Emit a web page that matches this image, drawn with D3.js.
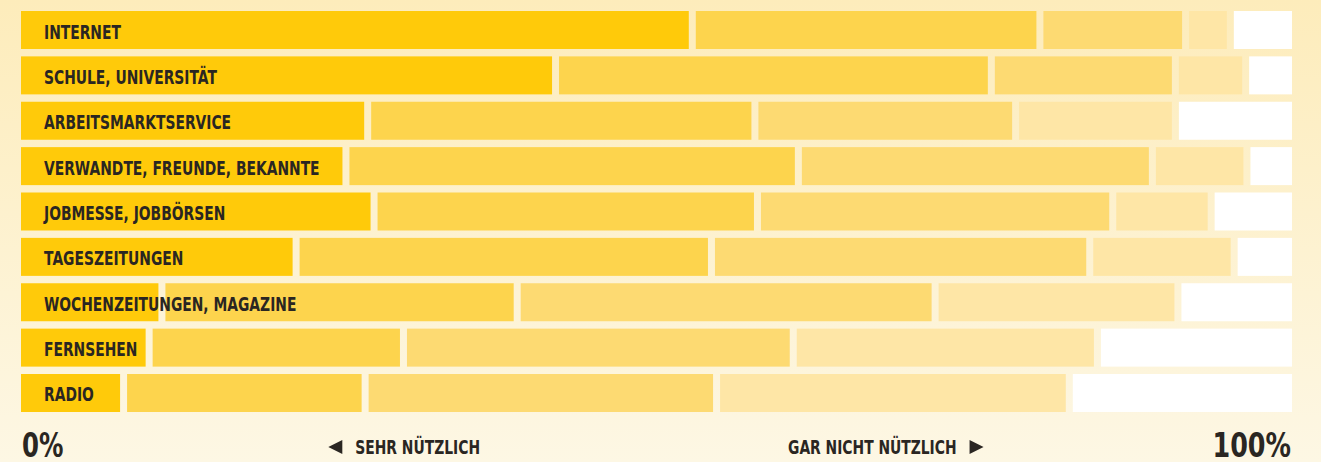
<!DOCTYPE html>
<html>
<head>
<meta charset="utf-8">
<script src="https://cdn.jsdelivr.net/npm/d3@7"></script>
<style>
  html, body { margin: 0; padding: 0; overflow: hidden; }
  svg { display: block; }
  .label { font-family: "DejaVu Sans", "Liberation Sans", sans-serif; font-weight: bold; fill: #2a2622; }
</style>
</head>
<body>
<script>
var canvasWidth = 1321;
var canvasHeight = 462;

// Informationsquellen, von oben nach unten
var categories = ["INTERNET", "SCHULE, UNIVERSITÄT", "ARBEITSMARKTSERVICE",
	"VERWANDTE, FREUNDE, BEKANNTE", "JOBMESSE, JOBBÖRSEN", "TAGESZEITUNGEN",
	"WOCHENZEITUNGEN, MAGAZINE", "FERNSEHEN", "RADIO"];

// Anteile in %
var sehrNuetzlich     = [52.8, 42.1, 27.4, 25.7, 27.9, 21.8, 11.3, 10.3,  8.3];
var eherNuetzlich     = [27.2, 34.1, 30.3, 35.4, 30.0, 32.5, 27.8, 19.9, 18.9];
var wenigNuetzlich    = [11.4, 14.4, 20.4, 27.7, 27.8, 29.6, 32.7, 30.5, 27.5];
var garNichtNuetzlich = [ 3.5,  5.5, 12.5,  7.4,  7.7, 11.3, 19.0, 23.8, 27.6];
var keineAngabe       = [ 5.1,  3.9,  9.4,  3.8,  6.6,  4.8,  9.2, 15.5, 17.7];

var seriesKeys = ["sehr", "eher", "wenig", "garnicht", "keine"];
var seriesColors = ["#ffca0a", "#fdd44d", "#fdda72", "#fee6a6", "#ffffff"];

var axisLabels = ["0%", "100%"];
var leftHint = "SEHR NÜTZLICH";
var rightHint = "GAR NICHT NÜTZLICH";

var gap = 7;
var squeeze = 0.73;   // no condensed font installed, so squeeze the bold one
var svg, xScale, yScale, colorScale;

function initCanvas() {
	svg = d3.select("body").append("svg")
		.attr("width", canvasWidth)
		.attr("height", canvasHeight);

	var grad = svg.append("defs").append("linearGradient")
		.attr("id", "bg")
		.attr("x1", 0).attr("y1", 0)
		.attr("x2", 0).attr("y2", 1);
	grad.append("stop").attr("offset", "0%").attr("stop-color", "#fdecbb");
	grad.append("stop").attr("offset", "100%").attr("stop-color", "#fdf7e4");

	svg.append("rect")
		.attr("width", canvasWidth)
		.attr("height", canvasHeight)
		.attr("fill", "url(#bg)");
}

function initScales() {
	xScale = d3.scaleLinear()
		.domain([0, 100])
		.range([21, 1292 + gap]);

	yScale = d3.scaleBand()
		.domain(categories)
		.range([11, 412])
		.paddingInner(0.1625)
		.paddingOuter(0);

	colorScale = d3.scaleOrdinal()
		.domain(seriesKeys)
		.range(seriesColors);
}

// text placed at (x,y), narrowed horizontally
function addText(parent, x, y, size, sx, anchor, txt) {
	return parent.append("text")
		.attr("class", "label")
		.attr("transform", "translate(" + x + "," + y + ") scale(" + sx + ",1)")
		.attr("text-anchor", anchor)
		.style("font-size", size + "px")
		.text(txt);
}

function drawBars() {
	var table = categories.map(function(c, i) {
		return {
			cat: c,
			sehr: sehrNuetzlich[i],
			eher: eherNuetzlich[i],
			wenig: wenigNuetzlich[i],
			garnicht: garNichtNuetzlich[i],
			keine: keineAngabe[i]
		};
	});

	var stacked = d3.stack().keys(seriesKeys)(table);

	var layers = svg.append("g").selectAll("g")
		.data(stacked)
		.enter().append("g")
		.attr("fill", function(d) { return colorScale(d.key); });

	layers.selectAll("rect")
		.data(function(d) { return d; })
		.enter().append("rect")
		.attr("x", function(d) { return xScale(d[0]); })
		.attr("y", function(d) { return yScale(d.data.cat); })
		.attr("width", function(d) {
			return Math.max(0, xScale(d[1]) - xScale(d[0]) - gap); })
		.attr("height", yScale.bandwidth());

	// labels sit on top of the bars
	var labels = svg.append("g");
	categories.forEach(function(c) {
		addText(labels, xScale(0) + 23, yScale(c) + yScale.bandwidth() / 2 + 8.5,
			19, squeeze, "start", c);
	});
}

function drawFooter() {
	var foot = svg.append("g");
	addText(foot, xScale(0) + 1, 457, 33, 0.74, "start", axisLabels[0]);
	addText(foot, xScale(100) - gap - 1, 457, 33, 0.77, "end", axisLabels[1]);

	var hintY = 454;
	var left = addText(foot, 480, hintY, 19, squeeze, "end", leftHint);
	var lx = 480 - left.node().getComputedTextLength() * squeeze - 13;
	foot.append("path")
		.attr("fill", "#2a2622")
		.attr("d", "M" + (lx - 14) + "," + (hintY - 7) +
			"L" + lx + "," + (hintY - 14) + "L" + lx + "," + hintY + "Z");

	var right = addText(foot, 788, hintY, 19, squeeze, "start", rightHint);
	var rx = 788 + right.node().getComputedTextLength() * squeeze + 13;
	foot.append("path")
		.attr("fill", "#2a2622")
		.attr("d", "M" + (rx + 14) + "," + (hintY - 7) +
			"L" + rx + "," + (hintY - 14) + "L" + rx + "," + hintY + "Z");
}

function initMain() {
	initCanvas();
	initScales();
	drawBars();
	drawFooter();
}

initMain();
</script>
</body>
</html>
